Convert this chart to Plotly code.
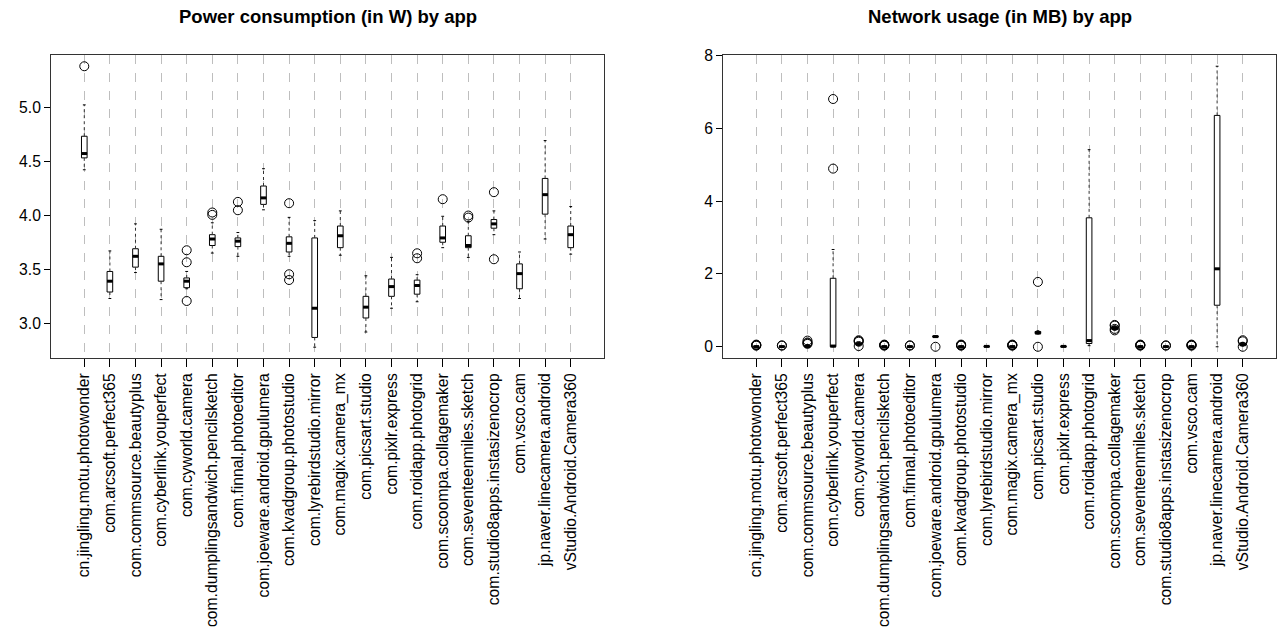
import plotly.graph_objects as go

apps = [
    "cn.jingling.motu.photowonder", "com.arcsoft.perfect365", "com.commsource.beautyplus",
    "com.cyberlink.youperfect", "com.cyworld.camera", "com.dumplingsandwich.pencilsketch",
    "com.finnal.photoeditor", "com.joeware.android.gpulumera", "com.kvadgroup.photostudio",
    "com.lyrebirdstudio.mirror", "com.magix.camera_mx", "com.picsart.studio",
    "com.pixlr.express", "com.roidapp.photogrid", "com.scoompa.collagemaker",
    "com.seventeenmiles.sketch", "com.studio8apps.instasizenocrop", "com.vsco.cam",
    "jp.naver.linecamera.android", "vStudio.Android.Camera360",
]

# Power consumption (W): whisker low, Q1, median, Q3, whisker high, outliers
pw_lo = [4.42, 3.23, 3.47, 3.22, 3.32, 3.65, 3.62, 4.05, 3.62, 2.78,
         3.63, 2.92, 3.14, 3.20, 3.70, 3.61, 3.82, 3.23, 3.78, 3.64]
pw_q1 = [4.53, 3.29, 3.52, 3.39, 3.33, 3.72, 3.71, 4.10, 3.66, 2.87,
         3.70, 3.05, 3.25, 3.27, 3.75, 3.70, 3.88, 3.32, 4.01, 3.70]
pw_med = [4.57, 3.39, 3.62, 3.55, 3.39, 3.78, 3.76, 4.16, 3.74, 3.14,
          3.81, 3.15, 3.34, 3.35, 3.79, 3.72, 3.92, 3.46, 4.19, 3.82]
pw_q3 = [4.73, 3.48, 3.69, 3.62, 3.42, 3.82, 3.79, 4.27, 3.80, 3.79,
         3.90, 3.25, 3.41, 3.40, 3.90, 3.81, 3.96, 3.55, 4.34, 3.90]
pw_hi = [5.02, 3.67, 3.92, 3.87, 3.48, 3.93, 3.84, 4.43, 3.98, 3.95,
         4.04, 3.44, 3.61, 3.45, 3.99, 3.94, 4.04, 3.66, 4.69, 4.08]
pw_out = [[5.377], [], [], [], [3.676, 3.565, 3.207], [4.025, 4.003], [4.123, 4.046], [],
          [4.111, 3.454, 3.401], [], [], [], [], [3.648, 3.602], [4.148], [3.997, 3.978],
          [4.213, 3.593], [], [], []]

# Network usage (MB)
nw_lo = [0.00, 0.00, 0.00, 0.00, 0.03, 0.00, 0.00, 0.26, 0.00, 0.00,
         0.00, 0.35, 0.00, 0.03, 0.46, 0.00, 0.00, 0.00, 0.00, 0.02]
nw_q1 = [0.00, 0.00, 0.00, 0.00, 0.06, 0.00, 0.00, 0.27, 0.00, 0.00,
         0.00, 0.36, 0.00, 0.09, 0.47, 0.00, 0.00, 0.00, 1.14, 0.03]
nw_med = [0.005, 0.005, 0.01, 0.02, 0.08, 0.005, 0.005, 0.28, 0.005, 0.01,
          0.005, 0.38, 0.01, 0.17, 0.51, 0.005, 0.005, 0.005, 2.14, 0.06]
nw_q3 = [0.01, 0.01, 0.03, 1.88, 0.10, 0.01, 0.01, 0.29, 0.01, 0.015,
         0.01, 0.42, 0.015, 3.54, 0.55, 0.01, 0.01, 0.01, 6.35, 0.10]
nw_hi = [0.02, 0.02, 0.06, 2.67, 0.12, 0.02, 0.02, 0.30, 0.02, 0.02,
         0.02, 0.44, 0.02, 5.41, 0.57, 0.02, 0.02, 0.02, 7.70, 0.12]
nw_out = [[0.03, 0.04, 0.05, 0.06], [0.03, 0.04], [0.17, 0.12, 0.10, 0.08],
          [4.89, 6.80], [0.16, 0.18, 0.14, 0.02], [0.03, 0.04, 0.05, 0.06],
          [0.03, 0.04], [0.0], [0.03, 0.04, 0.05, 0.06], [],
          [0.03, 0.04, 0.05, 0.06], [1.78, 0.0], [], [],
          [0.58, 0.45, 0.60, 0.49], [0.03, 0.04, 0.05, 0.06], [0.03, 0.04],
          [0.03, 0.04, 0.05, 0.06], [], [0.15, 0.0, 0.18]]

FONT = "Liberation Sans, Arial, Helvetica, sans-serif"
BW = 0.22

fig = go.Figure()


def add_panel(lo, q1, med, q3, hi, out, xa, ya):
    pos = list(range(len(apps)))
    wx, wy = [], []
    for i in pos:
        wx += [i, i, None, i, i, None]
        wy += [q3[i], hi[i], None, q1[i], lo[i], None]
    fig.add_trace(go.Scatter(x=wx, y=wy, mode="lines", xaxis=xa, yaxis=ya,
                             line=dict(color="#333", width=1, dash="3px,3px"),
                             hoverinfo="skip", showlegend=False))
    sx, sy = [], []
    for i in pos:
        for v in (lo[i], hi[i]):
            sx += [i - BW / 4, i + BW / 4, None]
            sy += [v, v, None]
    fig.add_trace(go.Scatter(x=sx, y=sy, mode="lines", xaxis=xa, yaxis=ya,
                             line=dict(color="black", width=1),
                             hoverinfo="skip", showlegend=False))
    fig.add_trace(go.Box(x=pos, q1=q1, median=med, q3=q3, lowerfence=q1, upperfence=q3,
                         width=BW, fillcolor="white", line=dict(color="black", width=1),
                         whiskerwidth=0, boxpoints=False, xaxis=xa, yaxis=ya,
                         hoverinfo="skip", showlegend=False))
    mx, my = [], []
    for i in pos:
        mx += [i - BW / 2, i + BW / 2, None]
        my += [med[i], med[i], None]
    fig.add_trace(go.Scatter(x=mx, y=my, mode="lines", xaxis=xa, yaxis=ya,
                             line=dict(color="black", width=3),
                             hoverinfo="skip", showlegend=False))
    ox, oy = [], []
    for i in pos:
        for v in out[i]:
            ox.append(i)
            oy.append(v)
    fig.add_trace(go.Scatter(x=ox, y=oy, mode="markers", xaxis=xa, yaxis=ya,
                             marker=dict(symbol="circle-open", size=9, color="black",
                                         line=dict(width=1, color="black")),
                             hoverinfo="skip", showlegend=False))


add_panel(pw_lo, pw_q1, pw_med, pw_q3, pw_hi, pw_out, "x", "y")
add_panel(nw_lo, nw_q1, nw_med, nw_q3, nw_hi, nw_out, "x2", "y2")

n = len(apps)
xcommon = dict(range=[-1.3, n - 1 + 1.3], tickmode="array", tickvals=list(range(n)),
               ticktext=apps, tickangle=-90, ticks="outside", ticklen=8, tickwidth=1,
               tickcolor="black", showgrid=True, gridcolor="#BEBEBE", griddash="dash",
               gridwidth=1, showline=True, mirror=True, linecolor="#333", linewidth=1,
               zeroline=False, automargin=False, tickfont=dict(size=15.7, color="black"))
ycommon = dict(ticks="outside", ticklen=6, tickwidth=1, tickcolor="black", showgrid=False,
               showline=True, mirror=True, linecolor="#333", linewidth=1, zeroline=False,
               automargin=False, tickfont=dict(size=15.7, color="black"))

ydom = [280 / 638, 583 / 638]
fig.update_layout(
    width=1280, height=638, template="none",
    paper_bgcolor="white", plot_bgcolor="white",
    margin=dict(l=0, r=0, t=0, b=0),
    font=dict(family=FONT, color="black"),
    showlegend=False,
    xaxis=dict(domain=[51 / 1280, 604 / 1280], anchor="y", **xcommon),
    yaxis=dict(domain=ydom, anchor="x", range=[2.680, 5.481],
               tickvals=[3.0, 3.5, 4.0, 4.5, 5.0],
               ticktext=["3.0", "3.5", "4.0", "4.5", "5.0"], **ycommon),
    xaxis2=dict(domain=[723 / 1280, 1276 / 1280], anchor="y2", **xcommon),
    yaxis2=dict(domain=ydom, anchor="x2", range=[-0.308, 8.008],
                tickvals=[0, 2, 4, 6, 8], ticktext=["0", "2", "4", "6", "8"], **ycommon),
    annotations=[
        dict(text="<b>Power consumption (in W) by app</b>", x=(51 + 604) / 2 / 1280,
             y=1 - 17 / 638, xref="paper", yref="paper", showarrow=False,
             xanchor="center", yanchor="middle", font=dict(size=18.5)),
        dict(text="<b>Network usage (in MB) by app</b>", x=(723 + 1276) / 2 / 1280,
             y=1 - 17 / 638, xref="paper", yref="paper", showarrow=False,
             xanchor="center", yanchor="middle", font=dict(size=18.5)),
    ],
)

fig.write_html("out.html", config={"displayModeBar": False},
               post_script="document.body.style.margin='0px';")
